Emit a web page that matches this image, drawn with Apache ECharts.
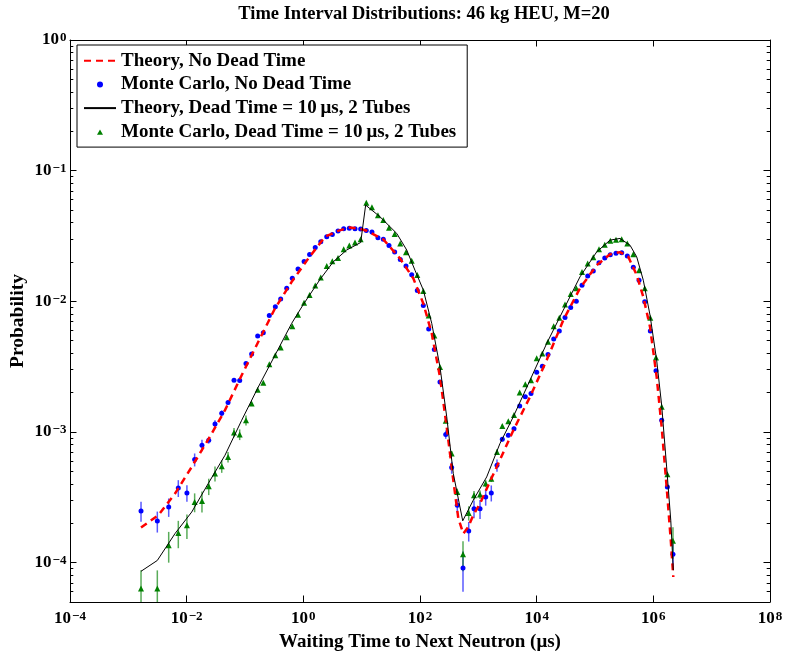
<!DOCTYPE html>
<html>
<head>
<meta charset="utf-8">
<script src="https://cdn.jsdelivr.net/npm/echarts@6/dist/echarts.min.js"></script>
<style>
  html, body { margin: 0; padding: 0; background: #fff; }
  #chart { width: 788px; height: 655px; }
</style>
</head>
<body>
<div id="chart"></div>
<script>
/* ---- data ---- */
// waiting-time bins of the Monte Carlo runs (µs)
const mcX = [0.00165, 0.00314, 0.00492, 0.00719, 0.0101, 0.0137, 0.0183, 0.0239, 0.0306, 0.0399,
  0.0512, 0.0648, 0.0811, 0.104, 0.130, 0.165, 0.206, 0.261, 0.331, 0.409,
  0.519, 0.647, 0.811, 1.03, 1.28, 1.60, 1.99, 2.52, 3.14, 3.93,
  4.92, 6.14, 7.69, 9.61, 12.0, 15.0, 19.0, 23.5, 29.4, 36.8,
  45.9, 57.5, 72.1, 89.9, 114, 141, 176, 220, 276, 349,
  436, 546, 684, 843, 1069, 1337, 1668, 2089, 2576, 3266,
  4086, 5117, 6383, 7998, 10020, 12500, 15640, 19590, 24430, 30600,
  38300, 47800, 59900, 75000, 93500, 117000, 147000, 183000, 229000, 287000,
  358000, 454000, 569000, 712000, 888000, 1110000, 1390000, 1740000, 2170000];

// Monte Carlo, no dead time
const mcNoDead = [2.49e-4, 2.08e-4, 2.67e-4, 3.73e-4, 3.42e-4, 6.15e-4, 7.93e-4, 8.65e-4, 1.15e-3, 1.39e-3,
  1.68e-3, 2.49e-3, 2.48e-3, 3.34e-3, 3.96e-3, 5.42e-3, 5.74e-3, 7.80e-3, 9.08e-3, 1.04e-2,
  1.26e-2, 1.50e-2, 1.77e-2, 2.02e-2, 2.28e-2, 2.58e-2, 2.86e-2, 3.12e-2, 3.25e-2, 3.45e-2,
  3.59e-2, 3.63e-2, 3.59e-2, 3.57e-2, 3.49e-2, 3.39e-2, 3.06e-2, 2.98e-2, 2.68e-2, 2.39e-2,
  2.09e-2, 1.86e-2, 1.60e-2, 1.21e-2, 9.31e-3, 6.15e-3, 4.28e-3, 2.41e-3, 9.57e-4, 5.35e-4,
  2.75e-4, 9.1e-5, 1.75e-4, 2.59e-4, 2.59e-4, 3.18e-4, 3.42e-4, 5.57e-4, 8.81e-4, 9.45e-4,
  1.06e-3, 1.58e-3, 1.86e-3, 1.97e-3, 2.86e-3, 3.19e-3, 3.92e-3, 5.14e-3, 5.94e-3, 7.52e-3,
  8.97e-3, 1.00e-2, 1.33e-2, 1.56e-2, 1.71e-2, 1.97e-2, 2.15e-2, 2.27e-2, 2.33e-2, 2.35e-2,
  2.22e-2, 1.82e-2, 1.45e-2, 9.91e-3, 5.94e-3, 2.94e-3, 1.23e-3, 3.80e-4, 1.16e-4];
const mcNoDeadErr = [4.3e-5, 3.8e-5, 4.3e-5, 5.5e-5, 5e-5, 7e-5, 8e-5, 5e-5, 8e-5, 7e-5,
  6e-5, 0, 0, 0, 0, 0, 0, 0, 0, 0,
  0, 0, 0, 0, 0, 0, 0, 0, 0, 0,
  0, 0, 0, 0, 0, 0, 0, 0, 0, 0,
  0, 0, 0, 0, 0, 0, 0, 0, 7e-5, 5.6e-5,
  3.3e-5, 3.1e-5, 3e-5, 4e-5, 4.3e-5, 4.5e-5, 4.8e-5, 6e-5, 3.5e-5, 3.5e-5,
  4e-5, 4e-5, 0, 0, 0, 0, 0, 0, 0, 0,
  0, 0, 0, 0, 0, 0, 0, 0, 0, 0,
  0, 0, 0, 0, 0, 0, 0, 0, 2.4e-5];

// Monte Carlo, dead time = 10 µs, 2 tubes
const mcDead = [6.33e-5, 6.33e-5, 1.36e-4, 1.69e-4, 1.93e-4, 2.91e-4, 2.96e-4, 3.84e-4, 4.81e-4, 5.47e-4,
  6.44e-4, 9.91e-4, 9.57e-4, 1.23e-3, 1.65e-3, 2.11e-3, 2.38e-3, 3.30e-3, 3.87e-3, 4.43e-3,
  5.32e-3, 6.46e-3, 7.88e-3, 9.75e-3, 1.12e-2, 1.32e-2, 1.52e-2, 1.86e-2, 2.03e-2, 2.15e-2,
  2.50e-2, 2.68e-2, 2.82e-2, 2.98e-2, 5.68e-2, 5.24e-2, 4.55e-2, 4.19e-2, 3.65e-2, 3.27e-2,
  2.77e-2, 2.38e-2, 2.04e-2, 1.59e-2, 1.20e-2, 7.80e-3, 5.48e-3, 3.15e-3, 1.22e-3, 6.84e-4,
  3.48e-4, 1.16e-4, 2.4e-4, 3.28e-4, 3.32e-4, 4.03e-4, 4.38e-4, 7.04e-4, 1.11e-3, 1.21e-3,
  1.35e-3, 2.01e-3, 2.32e-3, 2.49e-3, 3.66e-3, 3.99e-3, 4.90e-3, 6.46e-3, 7.48e-3, 9.47e-3,
  1.14e-2, 1.26e-2, 1.68e-2, 1.95e-2, 2.17e-2, 2.50e-2, 2.71e-2, 2.91e-2, 2.96e-2, 2.99e-2,
  2.77e-2, 2.29e-2, 1.73e-2, 1.26e-2, 7.48e-3, 3.72e-3, 1.56e-3, 4.75e-4, 1.47e-4];
const mcDeadErr = [2.4e-5, 2.4e-5, 3.6e-5, 4e-5, 4.1e-5, 4.8e-5, 5.4e-5, 5.5e-5, 6.3e-5, 6e-5,
  6e-5, 8e-5, 9e-5, 1.1e-4, 0, 0, 0, 0, 0, 0,
  0, 0, 0, 0, 0, 0, 0, 0, 0, 0,
  0, 0, 0, 0, 0, 0, 0, 0, 0, 0,
  0, 0, 0, 0, 0, 0, 0, 0, 0, 3e-5,
  2.1e-5, 3e-5, 3e-5, 2.5e-5, 2.5e-5, 2.5e-5, 2.4e-5, 3.5e-5, 3e-5, 0,
  0, 0, 0, 0, 0, 0, 0, 0, 0, 0,
  0, 0, 0, 0, 0, 0, 0, 0, 0, 0,
  0, 0, 0, 0, 0, 0, 0, 0, 4e-5];

// theory, no dead time
const thNoDeadX = [0.00165, 0.00327, 0.00631, 0.0122, 0.0235, 0.0454, 0.0877, 0.169, 0.327, 0.631,
  1.22, 2.35, 3.93, 6.31, 9.0, 12.2, 23.5, 45.4, 76.7, 114,
  159, 220, 287, 372, 454, 553, 673, 820, 1069, 1483,
  2065, 3981, 7690, 14860, 28640, 55300, 107000, 181000, 268000, 372000,
  519000, 673000, 877000, 1140000, 1390000, 1690000, 1990000, 2200000];
const thNoDead = [1.86e-4, 2.31e-4, 3.38e-4, 5.40e-4, 8.77e-4, 1.47e-3, 2.72e-3, 4.90e-3, 8.83e-3, 1.41e-2,
  2.13e-2, 3.12e-2, 3.46e-2, 3.68e-2, 3.60e-2, 3.47e-2, 2.98e-2, 2.13e-2, 1.50e-2, 9.63e-3,
  5.68e-3, 2.64e-3, 1.09e-3, 4.28e-4, 2.18e-4, 1.67e-4, 1.88e-4, 2.31e-4, 2.83e-4, 3.92e-4,
  5.40e-4, 1.03e-3, 1.86e-3, 3.55e-3, 7.18e-3, 1.26e-2, 1.89e-2, 2.29e-2, 2.38e-2, 2.19e-2,
  1.59e-2, 1.08e-2, 6.38e-3, 2.64e-3, 1.09e-3, 3.80e-4, 1.49e-4, 7.77e-5];

// theory, dead time = 10 µs, 2 tubes
const thDeadX = [0.00165, 0.00314, 0.00631, 0.0122, 0.0235, 0.0454, 0.0877, 0.169, 0.327, 0.631,
  1.0, 1.93, 3.27, 5.53, 9.62, 11.7, 20.6, 39.9, 59.2, 82.0,
  114, 159, 220, 287, 372, 540, 820, 1391, 2350, 3981,
  7690, 14860, 28640, 55300, 107000, 181000, 268000, 398000, 519000, 673000,
  877000, 1140000, 1390000, 1690000, 1990000, 2200000];
const thDead = [8.59e-5, 1.04e-4, 1.67e-4, 2.44e-4, 4.04e-4, 6.64e-4, 1.23e-3, 2.21e-3, 3.87e-3, 6.78e-3,
  9.47e-3, 1.47e-2, 2.01e-2, 2.47e-2, 2.82e-2, 5.45e-2, 4.44e-2, 3.31e-2, 2.47e-2, 1.73e-2,
  1.22e-2, 6.78e-3, 3.15e-3, 1.31e-3, 4.81e-4, 2.09e-4, 3.01e-4, 4.53e-4, 8.17e-4, 1.31e-3,
  2.49e-3, 4.76e-3, 8.57e-3, 1.54e-2, 2.39e-2, 2.94e-2, 3.03e-2, 2.69e-2, 2.19e-2, 1.45e-2,
  7.84e-3, 3.55e-3, 1.60e-3, 5.40e-4, 2.11e-4, 8.75e-5];

// y axis ticks: labelled decades and the 2..9 minor ticks between them
const yDecades = [1e-4, 1e-3, 1e-2, 1e-1, 1];
const yMinorMult = [2, 3, 4, 5, 6, 7, 8, 9];

const NAMES = ['Theory, No Dead Time', 'Monte Carlo, No Dead Time',
  'Theory, Dead Time = 10\u2009\u03bcs, 2 Tubes', 'Monte Carlo, Dead Time = 10\u2009\u03bcs, 2 Tubes'];

const X_MIN = 1e-4, X_MAX = 1e8, Y_MIN = 5e-5, Y_MAX = 1;
const FONT = '"Liberation Serif", "Times New Roman", serif';

/* ---- helpers ---- */
function pairs(xs, ys) {
  return xs.map((x, i) => [x, ys[i]]);
}

const yMinor = [];
[1e-5].concat(yDecades).forEach(d => yMinorMult.forEach(m => {
  const v = m * d;
  if (v > Y_MIN && v < Y_MAX) yMinor.push(v);
}));

function powLabel(v) {
  const l = Math.log10(v);
  const e = Math.round(l);
  if (Math.abs(l - e) > 1e-6) return '';
  return '{b|10}{s|' + (e < 0 ? '\u2212' + (-e) : e) + '}';
}

const labelRich = {
  b: { fontFamily: FONT, fontWeight: 'bold', fontSize: 17, lineHeight: 17, color: '#000',
       verticalAlign: 'bottom', padding: [5, 0, 0, 0] },
  s: { fontFamily: FONT, fontWeight: 'bold', fontSize: 13, lineHeight: 13, color: '#000',
       verticalAlign: 'top', padding: [0, 0, 0, 1] }
};

const nameStyle = { fontFamily: FONT, fontWeight: 'bold', fontSize: 19, color: '#000' };

function errorBars(ys, errs, color) {
  return {
    type: 'custom',
    silent: true,
    data: mcX.map((x, i) => [x, ys[i], errs[i]]).filter(d => d[2] > 0),
    encode: { x: 0, y: 1 },
    renderItem: (params, api) => {
      const x = api.value(0), y = api.value(1), e = api.value(2);
      const top = api.coord([x, y + e]);
      const bot = api.coord([x, Math.max(y - e, Y_MIN)]);
      return {
        type: 'line',
        shape: { x1: top[0], y1: top[1], x2: bot[0], y2: bot[1] },
        style: { stroke: color, lineWidth: 1.5 }
      };
    }
  };
}

function xAxisOf(pos, showLabel) {
  return {
    type: 'log', logBase: 10, min: X_MIN, max: X_MAX, interval: 2, position: pos,
    axisLine: { lineStyle: { color: '#000', width: 1 } },
    axisTick: { inside: true, length: 6.5, lineStyle: { color: '#000' } },
    splitLine: { show: false },
    axisLabel: { show: showLabel, formatter: powLabel, rich: labelRich, margin: 8 },
    name: showLabel ? 'Waiting Time to Next Neutron (\u03bcs)' : '',
    nameLocation: 'middle', nameGap: 30.5, nameMoveOverlap: false,
    nameTextStyle: nameStyle
  };
}

function yAxisOf(pos, showLabel) {
  return {
    type: 'log', logBase: 10, min: Y_MIN, max: Y_MAX, position: pos,
    axisLine: { lineStyle: { color: '#000', width: 1 } },
    axisTick: { inside: true, length: 6.5, customValues: yDecades, lineStyle: { color: '#000' } },
    splitLine: { show: false },
    axisLabel: { show: showLabel, customValues: yDecades, formatter: powLabel, rich: labelRich, margin: 3.5 },
    name: showLabel ? 'Probability' : '',
    nameLocation: 'middle', nameGap: 42, nameMoveOverlap: false,
    nameTextStyle: Object.assign({}, nameStyle, { fontSize: 19.5 })
  };
}

function yMinorAxisOf(pos) {
  return {
    type: 'log', logBase: 10, min: Y_MIN, max: Y_MAX, position: pos,
    axisLine: { show: false },
    axisTick: { inside: true, length: 3.3, customValues: yMinor, lineStyle: { color: '#000' } },
    splitLine: { show: false },
    axisLabel: { show: false }
  };
}

const lineLegendStyle = { opacity: 0 };
const triangleIcon = 'path://M0,0L0.01,0ZM32,6L31.99,6ZM13,6L16,0.6L19,6Z';

/* ---- chart ---- */
const chart = echarts.init(document.getElementById('chart'));
chart.setOption({
  animation: false,
  backgroundColor: '#fff',
  title: {
    text: 'Time Interval Distributions: 46 kg HEU, M=20',
    left: 424, top: 5, textAlign: 'center', padding: 0,
    textStyle: { fontFamily: FONT, fontWeight: 'bold', fontSize: 18.5, color: '#000' }
  },
  grid: { left: 70, right: 18, top: 40, bottom: 53, outerBoundsMode: 'none' },
  legend: {
    orient: 'vertical', left: 77, top: 45,
    padding: [5.7, 11, 5.3, 6],
    itemWidth: 32, itemHeight: 6, itemGap: 3.7,
    backgroundColor: '#fff', borderColor: '#000', borderWidth: 1, borderRadius: 0,
    selectedMode: false,
    textStyle: { fontFamily: FONT, fontWeight: 'bold', fontSize: 19, color: '#000', lineHeight: 20 },
    data: [
      { name: NAMES[0], itemStyle: lineLegendStyle },
      { name: NAMES[1] },
      { name: NAMES[2], itemStyle: lineLegendStyle },
      { name: NAMES[3], icon: triangleIcon, itemStyle: { borderWidth: 0 } }
    ]
  },
  xAxis: [xAxisOf('bottom', true), xAxisOf('top', false)],
  yAxis: [yAxisOf('left', true), yAxisOf('right', false), yMinorAxisOf('left'), yMinorAxisOf('right')],
  series: [
    {
      name: NAMES[0], type: 'line', data: pairs(thNoDeadX, thNoDead),
      symbol: 'none', lineStyle: { color: '#ff0000', width: 2.5, type: [7, 5] },
      itemStyle: { color: '#ff0000' }
    },
    errorBars(mcNoDead, mcNoDeadErr, 'rgba(0,0,255,0.65)'),
    {
      name: NAMES[1], type: 'scatter', data: pairs(mcX, mcNoDead),
      symbol: 'circle', symbolSize: 5, itemStyle: { color: '#0000ff', opacity: 1 }
    },
    {
      name: NAMES[2], type: 'line', data: pairs(thDeadX, thDead),
      symbol: 'none', lineStyle: { color: '#000', width: 1 },
      itemStyle: { color: '#000' }
    },
    errorBars(mcDead, mcDeadErr, 'rgba(0,128,0,0.65)'),
    {
      name: NAMES[3], type: 'scatter', data: pairs(mcX, mcDead),
      symbol: 'triangle', symbolSize: 6, itemStyle: { color: '#008000', opacity: 1 }
    }
  ]
});
</script>
</body>
</html>
